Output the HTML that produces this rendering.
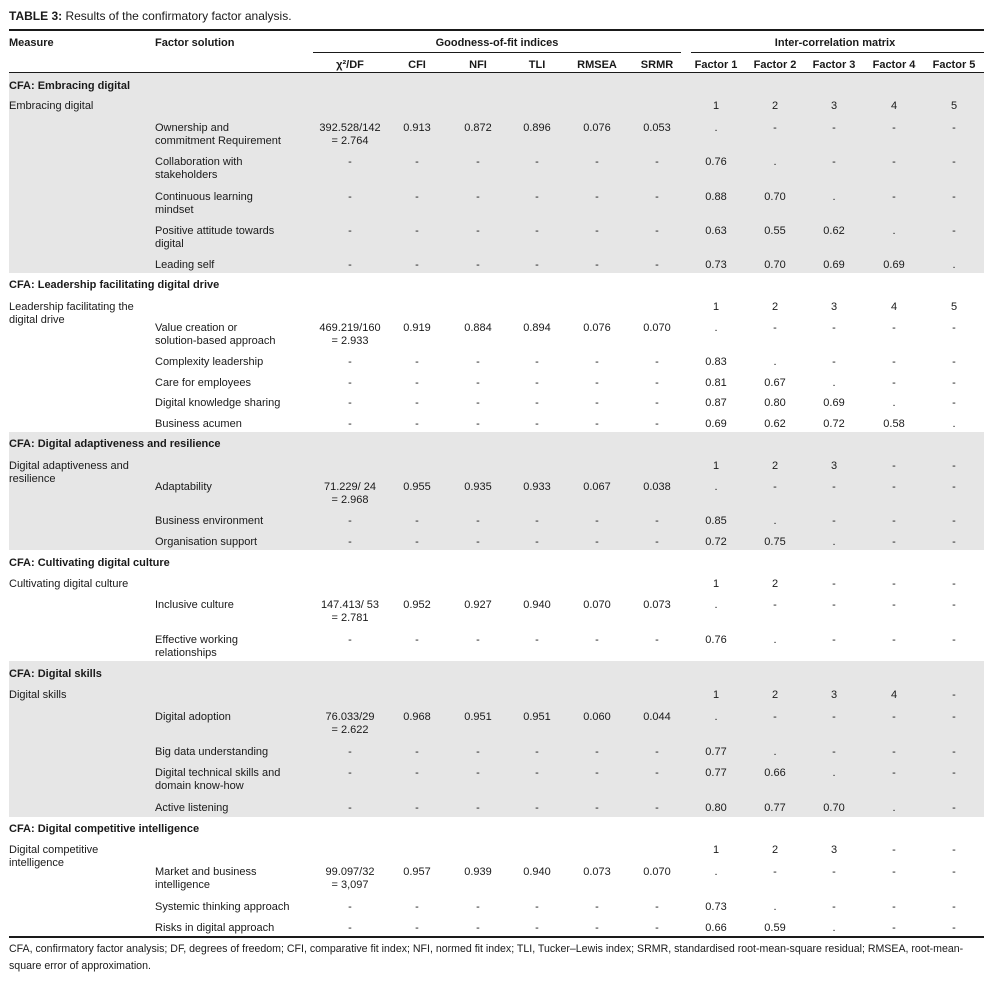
<!DOCTYPE html>
<html><head><meta charset="utf-8">
<style>
html,body{margin:0;padding:0;background:#fff;width:984px;height:989px;overflow:hidden}
body{position:relative;font-family:"Liberation Sans",sans-serif;font-size:11px;color:#1a1a1a}
.t{position:absolute;white-space:nowrap;line-height:13px}
.c{transform:translateX(-50%);text-align:center}
.b{font-weight:bold}
.ln{position:absolute;background:#1a1a1a}
.bg{position:absolute;left:9px;width:975px;background:#e6e6e6}
</style></head>
<body>
<div class="t" style="left:9px;top:10px;font-size:12px"><b>TABLE 3:</b> Results of the confirmatory factor analysis.</div>
<div class="ln" style="left:9px;top:29px;width:975px;height:2px"></div>
<div class="ln" style="left:313px;top:52px;width:368px;height:1px"></div>
<div class="ln" style="left:691px;top:52px;width:293px;height:1px"></div>
<div class="ln" style="left:9px;top:72px;width:975px;height:1px"></div>
<div class="ln" style="left:9px;top:936px;width:975px;height:2px"></div>
<div class="t" style="left:9px;top:941px;white-space:normal;width:975px;line-height:17px;font-size:10.6px">CFA, confirmatory factor analysis; DF, degrees of freedom; CFI, comparative fit index; NFI, normed fit index; TLI, Tucker–Lewis index; SRMR, standardised root-mean-square residual; RMSEA, root-mean-square error of approximation.</div>
<div id="tbl"></div>
<script>
const colX=[350,417,478,537,597,657,716,775,834,894,954];
const heads=['χ²/DF','CFI','NFI','TLI','RMSEA','SRMR','Factor 1','Factor 2','Factor 3','Factor 4','Factor 5'];
const bands=[[73,273],[432,550],[661,817]];
const sections=[
 [85,'CFA: Embracing digital'],[284,'CFA: Leadership facilitating digital drive'],[443,'CFA: Digital adaptiveness and resilience'],
 [562,'CFA: Cultivating digital culture'],[673,'CFA: Digital skills'],[828,'CFA: Digital competitive intelligence']];
const D='-';
const rows=[
 [105,'Embracing digital','',['','','','','','','1','2','3','4','5']],
 [127,'','Ownership and\ncommitment Requirement',['392.528/142\n= 2.764','0.913','0.872','0.896','0.076','0.053','.',D,D,D,D]],
 [161,'','Collaboration with\nstakeholders',[D,D,D,D,D,D,'0.76','.',D,D,D]],
 [196,'','Continuous learning\nmindset',[D,D,D,D,D,D,'0.88','0.70','.',D,D]],
 [230,'','Positive attitude towards\ndigital',[D,D,D,D,D,D,'0.63','0.55','0.62','.',D]],
 [264,'','Leading self',[D,D,D,D,D,D,'0.73','0.70','0.69','0.69','.']],
 [306,'Leadership facilitating the\ndigital drive','',['','','','','','','1','2','3','4','5']],
 [327,'','Value creation or\nsolution-based approach',['469.219/160\n= 2.933','0.919','0.884','0.894','0.076','0.070','.',D,D,D,D]],
 [361,'','Complexity leadership',[D,D,D,D,D,D,'0.83','.',D,D,D]],
 [382,'','Care for employees',[D,D,D,D,D,D,'0.81','0.67','.',D,D]],
 [402,'','Digital knowledge sharing',[D,D,D,D,D,D,'0.87','0.80','0.69','.',D]],
 [423,'','Business acumen',[D,D,D,D,D,D,'0.69','0.62','0.72','0.58','.']],
 [465,'Digital adaptiveness and\nresilience','',['','','','','','','1','2','3',D,D]],
 [486,'','Adaptability',['71.229/ 24\n= 2.968','0.955','0.935','0.933','0.067','0.038','.',D,D,D,D]],
 [520,'','Business environment',[D,D,D,D,D,D,'0.85','.',D,D,D]],
 [541,'','Organisation support',[D,D,D,D,D,D,'0.72','0.75','.',D,D]],
 [583,'Cultivating digital culture','',['','','','','','','1','2',D,D,D]],
 [604,'','Inclusive culture',['147.413/ 53\n= 2.781','0.952','0.927','0.940','0.070','0.073','.',D,D,D,D]],
 [639,'','Effective working\nrelationships',[D,D,D,D,D,D,'0.76','.',D,D,D]],
 [694,'Digital skills','',['','','','','','','1','2','3','4',D]],
 [716,'','Digital adoption',['76.033/29\n= 2.622','0.968','0.951','0.951','0.060','0.044','.',D,D,D,D]],
 [751,'','Big data understanding',[D,D,D,D,D,D,'0.77','.',D,D,D]],
 [772,'','Digital technical skills and\ndomain know-how',[D,D,D,D,D,D,'0.77','0.66','.',D,D]],
 [807,'','Active listening',[D,D,D,D,D,D,'0.80','0.77','0.70','.',D]],
 [849,'Digital competitive\nintelligence','',['','','','','','','1','2','3',D,D]],
 [871,'','Market and business\nintelligence',['99.097/32\n= 3,097','0.957','0.939','0.940','0.073','0.070','.',D,D,D,D]],
 [906,'','Systemic thinking approach',[D,D,D,D,D,D,'0.73','.',D,D,D]],
 [927,'','Risks in digital approach',[D,D,D,D,D,D,'0.66','0.59','.',D,D]]
];
const root=document.getElementById('tbl');
function add(x,y,txt,cls,name){
 const d=document.createElement('div');
 d.className='t '+cls;
 d.style.left=x+'px';d.style.top=(y-5)+'px';
 d.innerHTML=txt.split('\n').join('<br>');
 
 
 root.appendChild(d);
}
bands.forEach(b=>{const d=document.createElement('div');d.className='bg';d.style.top=b[0]+'px';d.style.height=(b[1]-b[0])+'px';
 
 
 root.appendChild(d);});
add(9,42,'Measure','b','measure-header');
add(155,42,'Factor solution','b','factor-solution-header');
add(497,42,'Goodness-of-fit indices','b c','fit-indices-header');
add(835,42,'Inter-correlation matrix','b c','matrix-header');
heads.forEach((h,i)=>add(colX[i],64,h,'b c','column-header'));
sections.forEach(s=>add(9,s[0],s[1],'b','section-title'));
rows.forEach(r=>{
 if(r[1])add(9,r[0],r[1],'','measure-name');
 if(r[2])add(155,r[0],r[2],'','factor-name');
 r[3].forEach((v,i)=>{if(v)add(colX[i],r[0],v,'c','cell-value');});
});
</script>
</body></html>
